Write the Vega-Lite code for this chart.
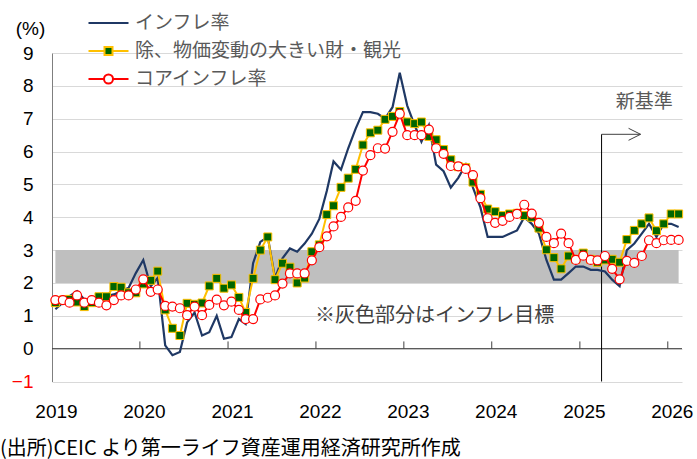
{
  "$schema": "https://vega.github.io/schema/vega-lite/v6.json",
  "width": 630,
  "height": 328.5,
  "autosize": {"type": "none"},
  "padding": {"left": 52, "top": 53, "right": 15, "bottom": 77.5},
  "background": "white",
  "config": {"view": {"stroke": null}, "font": "Liberation Sans", "axis": {"labelOverlap": false}, "axisY": {"labelOverlap": false, "tickCount": 20}},
  "title": {"text": "(出所)CEIC より第一ライフ資産運用経済研究所作成", "orient": "bottom", "anchor": "start", "frame": "group", "offset": 17, "dx": -52, "font": "Noto Sans CJK JP", "fontSize": 20, "fontWeight": "normal", "color": "#000000", "baseline": "top"},
  "datasets": {
    "cpi": [
      {"m": "2019-01-15", "インフレ率": 1.2, "除、物価変動の大きい財・観光": 1.4, "コアインフレ率": 1.48},
      {"m": "2019-02-15", "インフレ率": 1.4, "除、物価変動の大きい財・観光": 1.48, "コアインフレ率": 1.48},
      {"m": "2019-03-15", "インフレ率": 1.6, "除、物価変動の大きい財・観光": 1.5, "コアインフレ率": 1.4},
      {"m": "2019-04-15", "インフレ率": 1.75, "除、物価変動の大きい財・観光": 1.42, "コアインフレ率": 1.62},
      {"m": "2019-05-15", "インフレ率": 1.5, "除、物価変動の大きい財・観光": 1.28, "コアインフレ率": 1.4},
      {"m": "2019-06-15", "インフレ率": 1.4, "除、物価変動の大きい財・観光": 1.4, "コアインフレ率": 1.48},
      {"m": "2019-07-15", "インフレ率": 1.45, "除、物価変動の大きい財・観光": 1.58, "コアインフレ率": 1.4},
      {"m": "2019-08-15", "インフレ率": 1.6, "除、物価変動の大きい財・観光": 1.58, "コアインフレ率": 1.32},
      {"m": "2019-09-15", "インフレ率": 1.65, "除、物価変動の大きい財・観光": 1.89, "コアインフレ率": 1.48},
      {"m": "2019-10-15", "インフレ率": 1.75, "除、物価変動の大きい財・観光": 1.87, "コアインフレ率": 1.62},
      {"m": "2019-11-15", "インフレ率": 1.85, "除、物価変動の大きい財・観光": 1.7, "コアインフレ率": 1.62},
      {"m": "2019-12-15", "インフレ率": 2.3, "除、物価変動の大きい財・観光": 1.7, "コアインフレ率": 1.8},
      {"m": "2020-01-15", "インフレ率": 2.7, "除、物価変動の大きい財・観光": 1.97, "コアインフレ率": 2.11},
      {"m": "2020-02-15", "インフレ率": 1.9, "除、物価変動の大きい財・観光": 2.08, "コアインフレ率": 1.73},
      {"m": "2020-03-15", "インフレ率": 2.15, "除、物価変動の大きい財・観光": 2.36, "コアインフレ率": 1.8},
      {"m": "2020-04-15", "インフレ率": 0.1, "除、物価変動の大きい財・観光": 1.18, "コアインフレ率": 1.3},
      {"m": "2020-05-15", "インフレ率": -0.2, "除、物価変動の大きい財・観光": 0.62, "コアインフレ率": 1.28},
      {"m": "2020-06-15", "インフレ率": -0.1, "除、物価変動の大きい財・観光": 0.4, "コアインフレ率": 1.23},
      {"m": "2020-07-15", "インフレ率": 0.8, "除、物価変動の大きい財・観光": 1.38, "コアインフレ率": 1.02},
      {"m": "2020-08-15", "インフレ率": 1.1, "除、物価変動の大きい財・観光": 1.35, "コアインフレ率": 1.28},
      {"m": "2020-09-15", "インフレ率": 0.4, "除、物価変動の大きい財・観光": 1.39, "コアインフレ率": 1.02},
      {"m": "2020-10-15", "インフレ率": 0.5, "除、物価変動の大きい財・観光": 1.91, "コアインフレ率": 1.33},
      {"m": "2020-11-15", "インフレ率": 1.0, "除、物価変動の大きい財・観光": 2.14, "コアインフレ率": 1.49},
      {"m": "2020-12-15", "インフレ率": 0.3, "除、物価変動の大きい財・観光": 1.84, "コアインフレ率": 1.32},
      {"m": "2021-01-15", "インフレ率": 0.35, "除、物価変動の大きい財・観光": 1.94, "コアインフレ率": 1.43},
      {"m": "2021-02-15", "インフレ率": 0.9, "除、物価変動の大きい財・観光": 1.56, "コアインフレ率": 1.18},
      {"m": "2021-03-15", "インフレ率": 0.75, "除、物価変動の大きい財・観光": 1.1, "コアインフレ率": 0.9},
      {"m": "2021-04-15", "インフレ率": 2.6, "除、物価変動の大きい財・観光": 2.14, "コアインフレ率": 0.9},
      {"m": "2021-05-15", "インフレ率": 3.25, "除、物価変動の大きい財・観光": 3.0, "コアインフレ率": 1.5},
      {"m": "2021-06-15", "インフレ率": 3.4, "除、物価変動の大きい財・観光": 3.4, "コアインフレ率": 1.55},
      {"m": "2021-07-15", "インフレ率": 2.15, "除、物価変動の大きい財・観光": 2.1, "コアインフレ率": 1.62},
      {"m": "2021-08-15", "インフレ率": 2.75, "除、物価変動の大きい財・観光": 2.6, "コアインフレ率": 1.98},
      {"m": "2021-09-15", "インフレ率": 3.05, "除、物価変動の大きい財・観光": 2.48, "コアインフレ率": 2.29},
      {"m": "2021-10-15", "インフレ率": 2.95, "除、物価変動の大きい財・観光": 2.0, "コアインフレ率": 2.29},
      {"m": "2021-11-15", "インフレ率": 3.2, "除、物価変動の大きい財・観光": 2.15, "コアインフレ率": 2.29},
      {"m": "2021-12-15", "インフレ率": 3.5, "除、物価変動の大きい財・観光": 2.95, "コアインフレ率": 2.69},
      {"m": "2022-01-15", "インフレ率": 3.95, "除、物価変動の大きい財・観光": 3.16, "コアインフレ率": 3.09},
      {"m": "2022-02-15", "インフレ率": 4.8, "除、物価変動の大きい財・観光": 4.08, "コアインフレ率": 3.42},
      {"m": "2022-03-15", "インフレ率": 5.7, "除、物価変動の大きい財・観光": 4.35, "コアインフレ率": 3.72},
      {"m": "2022-04-15", "インフレ率": 5.45, "除、物価変動の大きい財・観光": 4.91, "コアインフレ率": 4.01},
      {"m": "2022-05-15", "インフレ率": 6.1, "除、物価変動の大きい財・観光": 5.19, "コアインフレ率": 4.3},
      {"m": "2022-06-15", "インフレ率": 6.7, "除、物価変動の大きい財・観光": 5.46, "コアインフレ率": 4.5},
      {"m": "2022-07-15", "インフレ率": 7.2, "除、物価変動の大きい財・観光": 6.2, "コアインフレ率": 5.42},
      {"m": "2022-08-15", "インフレ率": 7.2, "除、物価変動の大きい財・観光": 6.57, "コアインフレ率": 5.89},
      {"m": "2022-09-15", "インフレ率": 7.15, "除、物価変動の大きい財・観光": 6.65, "コアインフレ率": 6.1},
      {"m": "2022-10-15", "インフレ率": 7.0, "除、物価変動の大きい財・観光": 6.98, "コアインフレ率": 6.09},
      {"m": "2022-11-15", "インフレ率": 7.35, "除、物価変動の大きい財・観光": 7.07, "コアインフレ率": 6.6},
      {"m": "2022-12-15", "インフレ率": 8.4, "除、物価変動の大きい財・観光": 7.22, "コアインフレ率": 7.15},
      {"m": "2023-01-15", "インフレ率": 7.4, "除、物価変動の大きい財・観光": 6.9, "コアインフレ率": 6.5},
      {"m": "2023-02-15", "インフレ率": 6.8, "除、物価変動の大きい財・観光": 6.85, "コアインフレ率": 6.5},
      {"m": "2023-03-15", "インフレ率": 6.3, "除、物価変動の大きい財・観光": 6.9, "コアインフレ率": 6.5},
      {"m": "2023-04-15", "インフレ率": 6.8, "除、物価変動の大きい財・観光": 6.46, "コアインフレ率": 6.67},
      {"m": "2023-05-15", "インフレ率": 5.6, "除、物価変動の大きい財・観光": 6.36, "コアインフレ率": 6.1},
      {"m": "2023-06-15", "インフレ率": 5.4, "除、物価変動の大きい財・観光": 6.06, "コアインフレ率": 5.93},
      {"m": "2023-07-15", "インフレ率": 4.9, "除、物価変動の大きい財・観光": 5.75, "コアインフレ率": 5.56},
      {"m": "2023-08-15", "インフレ率": 5.2, "除、物価変動の大きい財・観光": 5.54, "コアインフレ率": 5.55},
      {"m": "2023-09-15", "インフレ率": 5.6, "除、物価変動の大きい財・観光": 5.51, "コアインフレ率": 5.47},
      {"m": "2023-10-15", "インフレ率": 4.9, "除、物価変動の大きい財・観光": 5.07, "コアインフレ率": 5.28},
      {"m": "2023-11-15", "インフレ率": 4.3, "除、物価変動の大きい財・観光": 4.7, "コアインフレ率": 4.58},
      {"m": "2023-12-15", "インフレ率": 3.4, "除、物価変動の大きい財・観光": 4.25, "コアインフレ率": 3.97},
      {"m": "2024-01-15", "インフレ率": 3.4, "除、物価変動の大きい財・観光": 4.17, "コアインフレ率": 3.83},
      {"m": "2024-02-15", "インフレ率": 3.4, "除、物価変動の大きい財・観光": 4.05, "コアインフレ率": 3.89},
      {"m": "2024-03-15", "インフレ率": 3.5, "除、物価変動の大きい財・観光": 4.1, "コアインフレ率": 4.01},
      {"m": "2024-04-15", "インフレ率": 3.6, "除、物価変動の大きい財・観光": 4.12, "コアインフレ率": 4.1},
      {"m": "2024-05-15", "インフレ率": 4.0, "除、物価変動の大きい財・観光": 4.05, "コアインフレ率": 4.38},
      {"m": "2024-06-15", "インフレ率": 3.8, "除、物価変動の大きい財・観光": 4.0, "コアインフレ率": 4.11},
      {"m": "2024-07-15", "インフレ率": 3.5, "除、物価変動の大きい財・観光": 3.67, "コアインフレ率": 3.83},
      {"m": "2024-08-15", "インフレ率": 2.7, "除、物価変動の大きい財・観光": 3.01, "コアインフレ率": 3.4},
      {"m": "2024-09-15", "インフレ率": 2.1, "除、物価変動の大きい財・観光": 2.77, "コアインフレ率": 3.21},
      {"m": "2024-10-15", "インフレ率": 2.1, "除、物価変動の大きい財・観光": 2.43, "コアインフレ率": 3.5},
      {"m": "2024-11-15", "インフレ率": 2.3, "除、物価変動の大きい財・観光": 2.82, "コアインフレ率": 3.21},
      {"m": "2024-12-15", "インフレ率": 2.5, "除、物価変動の大きい財・観光": 2.72, "コアインフレ率": 2.7},
      {"m": "2025-01-15", "インフレ率": 2.5, "除、物価変動の大きい財・観光": 2.91, "コアインフレ率": 2.83},
      {"m": "2025-02-15", "インフレ率": 2.4, "除、物価変動の大きい財・観光": 2.72, "コアインフレ率": 2.7},
      {"m": "2025-03-15", "インフレ率": 2.4, "除、物価変動の大きい財・観光": 2.63, "コアインフレ率": 2.69},
      {"m": "2025-04-15", "インフレ率": 2.35, "除、物価変動の大きい財・観光": 2.7, "コアインフレ率": 2.82},
      {"m": "2025-05-15", "インフレ率": 2.1, "除、物価変動の大きい財・観光": 2.72, "コアインフレ率": 2.43},
      {"m": "2025-06-15", "インフレ率": 1.9, "除、物価変動の大きい財・観光": 2.63, "コアインフレ率": 2.11},
      {"m": "2025-07-15", "インフレ率": 3.0, "除、物価変動の大きい財・観光": 3.32, "コアインフレ率": 2.67},
      {"m": "2025-08-15", "インフレ率": 3.2, "除、物価変動の大きい財・観光": 3.6, "コアインフレ率": 2.61},
      {"m": "2025-09-15", "インフレ率": 3.5, "除、物価変動の大きい財・観光": 3.8, "コアインフレ率": 2.82},
      {"m": "2025-10-15", "インフレ率": 3.8, "除、物価変動の大きい財・観光": 3.98, "コアインフレ率": 3.3},
      {"m": "2025-11-15", "インフレ率": 3.4, "除、物価変動の大きい財・観光": 3.59, "コアインフレ率": 3.21},
      {"m": "2025-12-15", "インフレ率": 3.8, "除、物価変動の大きい財・観光": 3.8, "コアインフレ率": 3.3},
      {"m": "2026-01-15", "インフレ率": 3.8, "除、物価変動の大きい財・観光": 4.1, "コアインフレ率": 3.31},
      {"m": "2026-02-15", "インフレ率": 3.7, "除、物価変動の大きい財・観光": 4.1, "コアインフレ率": 3.31}
    ]
  },
  "layer": [
    {
      "data": {"values": [{"s": "2019-01-15", "e": "2026-02-15", "lo": 2, "hi": 3}]},
      "mark": {"type": "rect", "color": "#BFBFBF"},
      "encoding": {
        "x": {"field": "s", "type": "temporal", "scale": {"type": "utc", "domain": [{"year": 2019, "month": 1, "date": 1, "utc": true}, {"year": 2026, "month": 3, "date": 1, "utc": true}]}},
        "x2": {"field": "e"},
        "y": {"field": "lo", "type": "quantitative", "scale": {"domain": [-1, 9], "nice": false, "zero": false}},
        "y2": {"field": "hi"}
      }
    },
    {
      "data": {"values": [{"v": 0}]},
      "mark": {"type": "rule", "color": "#404040", "strokeWidth": 1},
      "encoding": {
        "y": {"field": "v", "type": "quantitative", "scale": {"domain": [-1, 9], "nice": false, "zero": false}}
      }
    },
    {
      "data": {"values": [{"d": "2020-01-01"}, {"d": "2021-01-01"}, {"d": "2022-01-01"}, {"d": "2023-01-01"}, {"d": "2024-01-01"}, {"d": "2025-01-01"}, {"d": "2026-01-01"}]},
      "mark": {"type": "rule", "color": "#404040", "strokeWidth": 1},
      "encoding": {
        "x": {"field": "d", "type": "temporal", "scale": {"type": "utc", "domain": [{"year": 2019, "month": 1, "date": 1, "utc": true}, {"year": 2026, "month": 3, "date": 1, "utc": true}]}},
        "y": {"datum": 0, "type": "quantitative", "scale": {"domain": [-1, 9], "nice": false, "zero": false}},
        "y2": {"datum": 0.22}
      }
    },
    {
      "data": {"values": [{"d": "2025-04-01", "top": 6.525, "bot": -1}]},
      "mark": {"type": "rule", "color": "#000000", "strokeWidth": 1},
      "encoding": {
        "x": {"field": "d", "type": "temporal", "scale": {"type": "utc", "domain": [{"year": 2019, "month": 1, "date": 1, "utc": true}, {"year": 2026, "month": 3, "date": 1, "utc": true}]}},
        "y": {"field": "top", "type": "quantitative", "scale": {"domain": [-1, 9], "nice": false, "zero": false}},
        "y2": {"field": "bot"}
      }
    },
    {
      "data": {"values": [{"d1": "2025-04-01", "d2": "2025-09-10", "v": 6.525}]},
      "mark": {"type": "rule", "color": "#404040", "strokeWidth": 1},
      "encoding": {
        "x": {"field": "d1", "type": "temporal", "scale": {"type": "utc", "domain": [{"year": 2019, "month": 1, "date": 1, "utc": true}, {"year": 2026, "month": 3, "date": 1, "utc": true}]}},
        "x2": {"field": "d2"},
        "y": {"field": "v", "type": "quantitative", "scale": {"domain": [-1, 9], "nice": false, "zero": false}}
      }
    },
    {
      "data": {"values": [{"d2": "2025-09-10", "v": 6.525}]},
      "mark": {"type": "point", "shape": "M-1,-0.5L0,0L-1,0.5", "size": 576, "filled": false, "stroke": "#404040", "strokeWidth": 1, "opacity": 1},
      "encoding": {
        "x": {"field": "d2", "type": "temporal", "scale": {"type": "utc", "domain": [{"year": 2019, "month": 1, "date": 1, "utc": true}, {"year": 2026, "month": 3, "date": 1, "utc": true}]}},
        "y": {"field": "v", "type": "quantitative", "scale": {"domain": [-1, 9], "nice": false, "zero": false}}
      }
    },
    {
      "data": {"values": [{"t": "新基準", "d": "2025-09-25", "v": 7.51}]},
      "mark": {"type": "text", "font": "Noto Sans CJK JP", "fontSize": 19, "color": "#595959", "align": "center", "baseline": "middle"},
      "encoding": {
        "x": {"field": "d", "type": "temporal", "scale": {"type": "utc", "domain": [{"year": 2019, "month": 1, "date": 1, "utc": true}, {"year": 2026, "month": 3, "date": 1, "utc": true}]}},
        "y": {"field": "v", "type": "quantitative", "scale": {"domain": [-1, 9], "nice": false, "zero": false}},
        "text": {"field": "t"}
      }
    },
    {
      "data": {"values": [{"t": "※灰色部分はインフレ目標", "d": "2023-05-09", "v": 0.99}]},
      "mark": {"type": "text", "font": "Noto Sans CJK JP", "fontSize": 20, "color": "#404040", "align": "center", "baseline": "middle"},
      "encoding": {
        "x": {"field": "d", "type": "temporal", "scale": {"type": "utc", "domain": [{"year": 2019, "month": 1, "date": 1, "utc": true}, {"year": 2026, "month": 3, "date": 1, "utc": true}]}},
        "y": {"field": "v", "type": "quantitative", "scale": {"domain": [-1, 9], "nice": false, "zero": false}},
        "text": {"field": "t"}
      }
    },
    {
      "data": {"name": "cpi"},
      "mark": {"type": "line", "color": "#1F3864", "strokeWidth": 2.2},
      "encoding": {
        "x": {"field": "m", "type": "temporal", "scale": {"type": "utc", "domain": [{"year": 2019, "month": 1, "date": 1, "utc": true}, {"year": 2026, "month": 3, "date": 1, "utc": true}]},
          "axis": {"format": "%Y", "tickCount": {"interval": "year", "step": 1}, "domain": false, "ticks": false, "grid": false, "labelFontSize": 19, "labelColor": "#000000", "labelPadding": 21, "labelOffset": 4, "labelFlush": false, "labelOverlap": false, "title": null}},
        "y": {"field": "インフレ率", "type": "quantitative", "scale": {"domain": [-1, 9], "nice": false, "zero": false},
          "axis": {"values": [-1, 0, 1, 2, 3, 4, 5, 6, 7, 8, 9], "tickCount": 20, "format": "d", "grid": true, "gridColor": "#D9D9D9", "gridWidth": 1, "domain": true, "domainColor": "#7F7F7F", "domainWidth": 1, "ticks": false, "labelFontSize": 19, "labelPadding": 19, "labelOverlap": false, "labelFlush": false, "labelColor": {"expr": "datum.value < 0 ? '#FF0000' : '#000000'"}, "title": "(%)", "titleAngle": 0, "titleX": -22, "titleY": -19, "titleAlign": "center", "titleBaseline": "alphabetic", "titleFontSize": 19, "titleFontWeight": "normal", "titleColor": "#000000"}}
      }
    },
    {
      "data": {"name": "cpi"},
      "mark": {"type": "line", "color": "#FFC000", "strokeWidth": 2},
      "encoding": {
        "x": {"field": "m", "type": "temporal", "scale": {"type": "utc", "domain": [{"year": 2019, "month": 1, "date": 1, "utc": true}, {"year": 2026, "month": 3, "date": 1, "utc": true}]}},
        "y": {"field": "除、物価変動の大きい財・観光", "type": "quantitative", "scale": {"domain": [-1, 9], "nice": false, "zero": false}}
      }
    },
    {
      "data": {"name": "cpi"},
      "mark": {"type": "point", "shape": "square", "filled": true, "fill": "#006600", "stroke": "#FFC000", "strokeWidth": 1, "size": 64, "opacity": 1},
      "encoding": {
        "x": {"field": "m", "type": "temporal", "scale": {"type": "utc", "domain": [{"year": 2019, "month": 1, "date": 1, "utc": true}, {"year": 2026, "month": 3, "date": 1, "utc": true}]}},
        "y": {"field": "除、物価変動の大きい財・観光", "type": "quantitative", "scale": {"domain": [-1, 9], "nice": false, "zero": false}}
      }
    },
    {
      "data": {"name": "cpi"},
      "mark": {"type": "line", "color": "#FF0000", "strokeWidth": 2},
      "encoding": {
        "x": {"field": "m", "type": "temporal", "scale": {"type": "utc", "domain": [{"year": 2019, "month": 1, "date": 1, "utc": true}, {"year": 2026, "month": 3, "date": 1, "utc": true}]}},
        "y": {"field": "コアインフレ率", "type": "quantitative", "scale": {"domain": [-1, 9], "nice": false, "zero": false}}
      }
    },
    {
      "data": {"name": "cpi"},
      "mark": {"type": "point", "shape": "circle", "filled": true, "fill": "#FFFFFF", "stroke": "#FF0000", "strokeWidth": 1.2, "size": 81, "opacity": 1},
      "encoding": {
        "x": {"field": "m", "type": "temporal", "scale": {"type": "utc", "domain": [{"year": 2019, "month": 1, "date": 1, "utc": true}, {"year": 2026, "month": 3, "date": 1, "utc": true}]}},
        "y": {"field": "コアインフレ率", "type": "quantitative", "scale": {"domain": [-1, 9], "nice": false, "zero": false}}
      }
    },
    {
      "data": {"name": "cpi"},
      "transform": [{"fold": ["インフレ率", "除、物価変動の大きい財・観光", "コアインフレ率"], "as": ["series", "value"]}],
      "mark": {"type": "point", "size": 0, "opacity": 1, "filled": true, "strokeWidth": 2},
      "encoding": {
        "x": {"field": "m", "type": "temporal", "scale": {"type": "utc", "domain": [{"year": 2019, "month": 1, "date": 1, "utc": true}, {"year": 2026, "month": 3, "date": 1, "utc": true}]}},
        "y": {"field": "value", "type": "quantitative", "scale": {"domain": [-1, 9], "nice": false, "zero": false}},
        "stroke": {"field": "series", "type": "nominal",
          "scale": {"domain": ["インフレ率", "除、物価変動の大きい財・観光", "コアインフレ率"], "range": ["#1F3864", "#FFC000", "#FF0000"]},
          "legend": {"title": null, "orient": "none", "legendX": 45.5, "legendY": -41, "direction": "vertical", "padding": 0, "symbolSize": 400, "symbolStrokeWidth": 2, "symbolOpacity": 1, "labelFont": "Noto Sans CJK JP", "labelFontSize": 19, "labelColor": "#595959", "labelOffset": 15.5, "rowPadding": 7, "labelLimit": 600}
        },
        "fill": {"field": "series", "type": "nominal",
          "scale": {"domain": ["インフレ率", "除、物価変動の大きい財・観光", "コアインフレ率"], "range": ["transparent", "#006600", "#FFFFFF"]},
          "legend": {"title": null, "orient": "none", "legendX": 45.5, "legendY": -41, "direction": "vertical", "padding": 0, "symbolSize": 400, "symbolStrokeWidth": 2, "symbolOpacity": 1, "labelFont": "Noto Sans CJK JP", "labelFontSize": 19, "labelColor": "#595959", "labelOffset": 15.5, "rowPadding": 7, "labelLimit": 600}
        },
        "shape": {"field": "series", "type": "nominal",
          "scale": {"domain": ["インフレ率", "除、物価変動の大きい財・観光", "コアインフレ率"], "range": ["M-2,0H2", "M-2,0H-0.4M0.4,0H2M-0.4,-0.4H0.4V0.4H-0.4Z", "M-2,0H-0.45M0.45,0H2M0.45,0A0.45,0.45,0,1,1,-0.45,0A0.45,0.45,0,1,1,0.45,0Z"]},
          "legend": {"title": null, "orient": "none", "legendX": 45.5, "legendY": -41, "direction": "vertical", "padding": 0, "symbolSize": 400, "symbolStrokeWidth": 2, "symbolOpacity": 1, "labelFont": "Noto Sans CJK JP", "labelFontSize": 19, "labelColor": "#595959", "labelOffset": 15.5, "rowPadding": 7, "labelLimit": 600}
        }
      }
    }
  ]
}
